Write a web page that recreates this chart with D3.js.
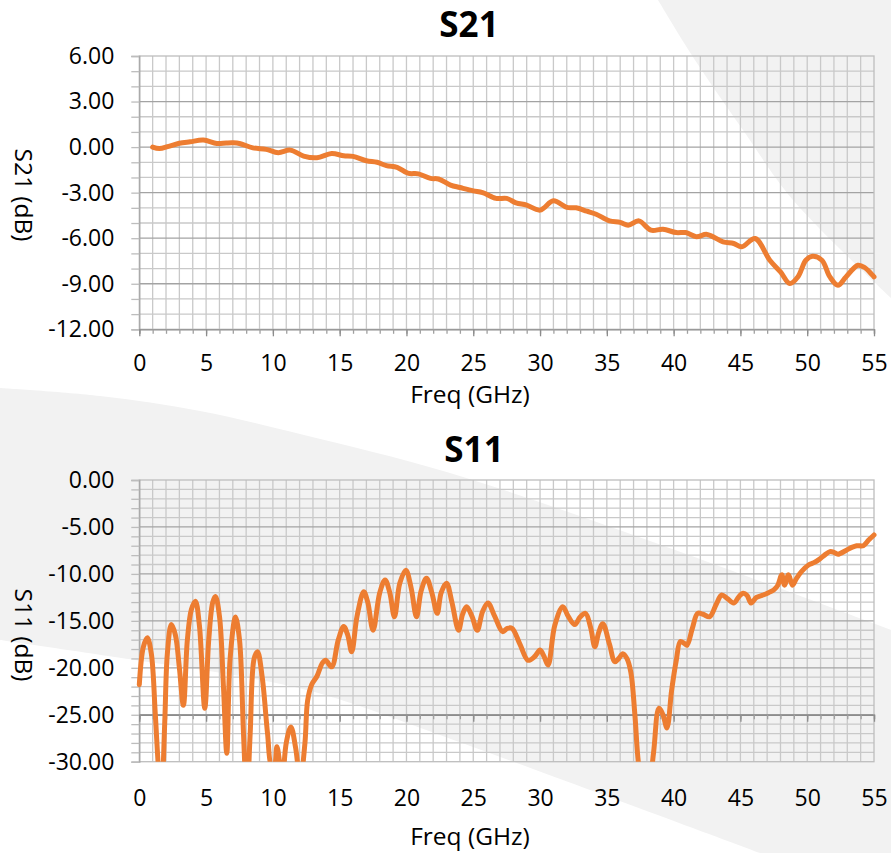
<!DOCTYPE html>
<html lang="en">
<head>
<meta charset="UTF-8">
<title>S21 / S11</title>
<script src="https://d3js.org/d3.v7.min.js"></script>
<style>
    body { margin: 0; background: #ffffff; }
    svg { display: block; font-family: "Open Sans", sans-serif; }
</style>
</head>
<body>
<svg id="chart" width="891" height="853"></svg>
<script>
// ---- data ----
const s21Freq = [1.0, 1.5, 2.2, 3.0, 3.8, 4.8, 5.8, 6.5, 7.0, 7.5, 8.5, 9.5, 10.4, 11.3, 12.3, 13.3, 14.4, 15.3, 16.0, 17.0,
    17.8, 18.5, 19.3, 20.1, 20.9, 21.8, 22.4, 23.3, 24.0, 25.0, 25.7, 26.7, 27.5, 28.2, 29.0, 30.0, 31.0, 32.0, 32.7, 33.5,
    34.2, 35.2, 36.0, 36.6, 37.4, 38.3, 39.2, 40.2, 40.9, 41.7, 42.5, 43.7, 44.5, 45.1, 46.1, 47.2, 48.0, 48.7, 49.3, 49.9,
    50.4, 51.1, 51.7, 52.3, 52.9, 53.8, 54.3, 55.0];
const s21Db = [0.0, -0.1, 0.05, 0.25, 0.35, 0.46, 0.24, 0.27, 0.28, 0.24, -0.05, -0.15, -0.37, -0.2, -0.59, -0.7, -0.42, -0.57, -0.61, -0.9,
    -1.0, -1.22, -1.33, -1.72, -1.76, -2.06, -2.1, -2.5, -2.66, -2.88, -3.0, -3.38, -3.38, -3.67, -3.82, -4.15, -3.54, -3.97, -4.0, -4.22,
    -4.42, -4.86, -4.96, -5.14, -4.86, -5.47, -5.41, -5.63, -5.63, -5.9, -5.75, -6.24, -6.35, -6.57, -6.02, -7.45, -8.22, -8.99, -8.55, -7.45,
    -7.19, -7.45, -8.55, -9.1, -8.55, -7.78, -7.93, -8.55];

const s11Freq = [0.0, 0.3, 0.6, 0.9, 1.2, 1.45, 1.65, 1.9, 2.1, 2.4, 2.7, 3.0, 3.3, 3.6, 3.9, 4.2, 4.5, 4.9, 5.2, 5.5,
    5.7, 6.0, 6.3, 6.55, 6.8, 7.2, 7.5, 7.8, 8.05, 8.3, 8.6, 8.85, 9.2, 9.6, 9.9, 10.1, 10.3, 10.5, 10.7, 11.0,
    11.35, 11.7, 12.05, 12.4, 12.6, 12.9, 13.3, 13.7, 13.95, 14.4, 14.9, 15.3, 15.6, 15.9, 16.3, 16.8, 17.1, 17.5, 18.0, 18.4,
    18.75, 19.1, 19.5, 19.95, 20.35, 20.75, 21.1, 21.5, 21.9, 22.3, 22.6, 23.0, 23.4, 23.9, 24.2, 24.5, 24.9, 25.3, 25.7, 26.1,
    26.6, 27.2, 27.55, 27.9, 28.5, 29.1, 29.6, 30.0, 30.3, 30.6, 31.1, 31.7, 32.1, 32.6, 33.0, 33.4, 33.8, 34.1, 34.4, 34.7,
    35.2, 35.6, 35.9, 36.2, 36.5, 36.8, 37.1, 37.4, 37.8, 38.2, 38.5, 38.9, 39.2, 39.5, 39.85, 40.2, 40.5, 40.8, 41.0, 41.4,
    41.8, 42.2, 42.7, 43.2, 43.6, 44.0, 44.5, 44.9, 45.2, 45.5, 45.8, 46.2, 46.7, 47.1, 47.5, 47.8, 48.1, 48.3, 48.6, 48.9,
    49.2, 49.6, 50.1, 50.5, 50.9, 51.3, 51.7, 52.0, 52.3, 52.9, 53.3, 53.7, 54.2, 54.6, 55.0];
const s11Db = [-21.8, -17.8, -16.8, -18.5, -25, -31, -34, -26, -18.5, -15.4, -16.5, -20, -24.0, -17, -13.8, -12.9, -15.5, -24.3, -17, -13,
    -12.4, -14.5, -22, -29.1, -19, -14.6, -17, -27, -34, -27, -19, -18.3, -21, -27, -30.5, -30.5, -28.4, -30, -32, -28,
    -26.3, -28.5, -32, -28, -23.5, -21.8, -20.9, -19.5, -19.2, -19.9, -17, -15.6, -16.5, -18.3, -14.5, -11.9, -13, -16.0, -12, -10.65,
    -12, -14.56, -11, -9.6, -11.5, -14.56, -11.8, -10.47, -12, -14.2, -12, -11.0, -13, -16.0, -14.3, -13.5, -14.5, -16.0, -14, -13.1,
    -14.5, -16.15, -15.8, -15.8, -17.5, -19.2, -18.8, -18.1, -18.8, -19.7, -15.5, -13.5, -14.5, -15.4, -14.6, -14.2, -15.8, -17.75, -16.2, -15.3,
    -17.5, -19.35, -19, -18.5, -19, -20.5, -25, -30.5, -33, -32, -29, -24.3, -25, -26.4, -22.4, -19.2, -17.2, -17.4, -17.6, -15.8,
    -14.2, -14.3, -14.56, -13.2, -12.25, -12.6, -13.1, -12.4, -12.07, -12.3, -13.1, -12.5, -12.25, -12.0, -11.7, -11.2, -10.1, -11.2, -10.1, -11.2,
    -10.47, -9.7, -9.05, -8.8, -8.45, -8.0, -7.63, -7.7, -7.9, -7.5, -7.2, -7.0, -7.0, -6.4, -5.86];

const freqTicks = [0, 5, 10, 15, 20, 25, 30, 35, 40, 45, 50, 55];
const s21Ticks = [6, 3, 0, -3, -6, -9, -12];
const s11Ticks = [0, -5, -10, -15, -20, -25, -30];

const svg = d3.select("#chart");
const orange = "#ed7d31";

// ---- light grey background swooshes ----
const edge = d3.line().curve(d3.curveCatmullRom);
const bg = svg.append("g").attr("fill", "#f2f2f2");
bg.append("path")
    .attr("d", edge([[658, 0], [693, 57], [743, 130], [793, 200], [891, 298]]) + "L891,0Z");
const bandTop = [[0, 388], [100, 396], [200, 411], [300, 434], [450, 473], [650, 541], [891, 630]];
const bandLow = [[760, 853], [440, 735], [325, 695], [250, 678], [135, 660], [0, 640]];
bg.append("path")
    .attr("d", edge(bandTop) + "L891,853L" + edge(bandLow).slice(1) + "Z");

function drawChart(o) {
    const x = d3.scaleLinear().domain([0, 55]).range([139.3, 874]);
    const y = d3.scaleLinear().domain([o.ticks[0], o.ticks[o.ticks.length - 1]]).range([o.top, o.bottom]);
    const g = svg.append("g");
    const [yMax, yMin] = y.domain();

    // grid
    g.append("g").selectAll("line")
        .data(d3.range(1, 55))
        .join("line")
        .attr("x1", d => x(d)).attr("x2", d => x(d))
        .attr("y1", o.top).attr("y2", o.bottom)
        .attr("stroke", "#c9c9c9").attr("stroke-width", 1.3);
    g.append("g").selectAll("line")
        .data(d3.range(yMin + 1, yMax))
        .join("line")
        .attr("x1", x(0)).attr("x2", x(55))
        .attr("y1", d => y(d)).attr("y2", d => y(d))
        .attr("stroke", d => o.ticks.includes(d) ? "#a3a3a3" : "#c9c9c9")
        .attr("stroke-width", 1.3);
    // plot border
    g.append("rect")
        .attr("x", x(0)).attr("y", o.top)
        .attr("width", x(55) - x(0)).attr("height", o.bottom - o.top)
        .attr("fill", "none").attr("stroke", "#bdbdbd").attr("stroke-width", 1.3);

    // y axis with a tick at every dB
    const yAxis = g.append("g")
        .attr("transform", `translate(${x(0)},0)`)
        .call(d3.axisLeft(y)
            .tickValues(d3.range(yMin, yMax + 1))
            .tickSize(8).tickPadding(17)
            .tickFormat(d => o.ticks.includes(d) ? d.toFixed(2) : ""));
    yAxis.select(".domain").attr("stroke", "#a6a6a6").attr("stroke-width", 1.3);
    yAxis.selectAll(".tick line").attr("stroke", "#bdbdbd").attr("stroke-width", 1.3);
    yAxis.selectAll("text").attr("font-size", 23).attr("fill", "#000").attr("font-family", "Open Sans");

    // x axis line at the crossing value, minor + major ticks
    const xAt = y(o.cross);
    const xMinor = g.append("g")
        .attr("transform", `translate(0,${xAt})`)
        .call(d3.axisBottom(x).tickValues(d3.range(0, 56)).tickSize(4.5).tickFormat(""));
    xMinor.select(".domain").attr("stroke", "#8c8c8c").attr("stroke-width", 1.3);
    xMinor.selectAll(".tick line").attr("stroke", "#a0a0a0").attr("stroke-width", 1.3);
    const xMajor = g.append("g")
        .attr("transform", `translate(0,${xAt})`)
        .call(d3.axisBottom(x).tickValues(freqTicks).tickSize(7).tickFormat(""));
    xMajor.select(".domain").remove();
    xMajor.selectAll(".tick line").attr("stroke", "#8c8c8c").attr("stroke-width", 1.3);

    // x labels at the bottom of the plot area
    const xLab = g.append("g")
        .attr("transform", `translate(0,${o.bottom})`)
        .call(d3.axisBottom(x).tickValues(freqTicks).tickSize(0).tickPadding(o.labelPad));
    xLab.select(".domain").remove();
    xLab.selectAll("text").attr("font-size", 23).attr("fill", "#000").attr("font-family", "Open Sans");

    // curve
    const clipId = "clip-" + o.name;
    svg.append("clipPath").attr("id", clipId)
        .append("rect")
        .attr("x", x(0) - 5).attr("y", o.top)
        .attr("width", x(55) - x(0) + 10).attr("height", o.bottom - o.top);
    const line = d3.line()
        .x((d, i) => x(o.freq[i]))
        .y(d => y(d))
        .curve(d3.curveCatmullRom.alpha(0.5));
    g.append("path")
        .datum(o.db)
        .attr("clip-path", `url(#${clipId})`)
        .attr("d", line)
        .attr("fill", "none")
        .attr("stroke", orange)
        .attr("stroke-width", 5)
        .attr("stroke-linejoin", "round")
        .attr("stroke-linecap", "round");

    // titles
    g.append("text")
        .attr("x", o.titleX).attr("y", o.titleY)
        .attr("text-anchor", "middle")
        .attr("font-size", 35).attr("font-weight", "bold")
        .text(o.name);
    g.append("text")
        .attr("x", 470).attr("y", o.xTitleY)
        .attr("text-anchor", "middle")
        .attr("font-size", 24.5)
        .text("Freq (GHz)");
    g.append("text")
        .attr("transform", `translate(15,${o.yTitleY}) rotate(90)`)
        .attr("text-anchor", "middle")
        .attr("font-size", 24.5)
        .text(o.name + " (dB)");
}

drawChart({
    name: "S21", freq: s21Freq, db: s21Db, ticks: s21Ticks,
    top: 56, bottom: 329.3, cross: -12, labelPad: 25,
    titleX: 469, titleY: 37, xTitleY: 403, yTitleY: 195
});
drawChart({
    name: "S11", freq: s11Freq, db: s11Db, ticks: s11Ticks,
    top: 480, bottom: 761.7, cross: -25, labelPad: 28,
    titleX: 474, titleY: 462, xTitleY: 845, yTitleY: 635
});
</script>
</body>
</html>
